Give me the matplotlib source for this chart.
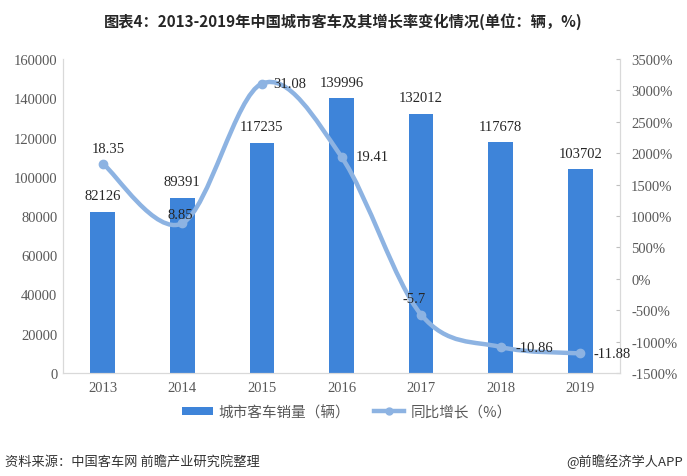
import matplotlib
matplotlib.use("Agg")
import matplotlib.pyplot as plt
from matplotlib.path import Path
from matplotlib.patches import PathPatch, Patch
from matplotlib.lines import Line2D
from matplotlib.ticker import FuncFormatter, MultipleLocator

years = ["2013", "2014", "2015", "2016", "2017", "2018", "2019"]
sales = [82126, 89391, 117235, 139996, 132012, 117678, 103702]
growth = [18.35, 8.85, 31.08, 19.41, -5.7, -10.86, -11.88]

title = "图表4：2013-2019年中国城市客车及其增长率变化情况(单位：辆，%)"
legend_bar = "城市客车销量（辆）"
legend_line = "同比增长（%）"
source = "资料来源：中国客车网 前瞻产业研究院整理"
brand = "@前瞻经济学人APP"

BAR = "#3e84d9"
LINE = "#8db3e2"
GRAY = "#595959"
SERIF = ["Liberation Serif", "DejaVu Serif"]
CJK = ["Noto Sans CJK SC", "DejaVu Sans"]

plt.rcParams["font.family"] = CJK

fig = plt.figure(figsize=(6.87, 4.77), dpi=100)
ax = fig.add_axes([63/687, 1-374/477, (620-63)/687, (374-60)/477])
ax2 = ax.twinx()

x = list(range(len(years)))
ax.bar(x, sales, width=0.31, color=BAR, zorder=2)
ax.set_xlim(-0.5, len(years)-0.5)
ax.set_ylim(0, 160000)
ax.yaxis.set_major_locator(MultipleLocator(20000))
ax.set_xticks(x)
ax.set_xticklabels(years)

for xi, v in zip(x, sales):
    ax.annotate(str(v), (xi, v), xytext=(0, 16), textcoords="offset pixels",
                ha="center", va="center", fontsize=10.5, family=SERIF, color="#262626")

# smoothed line (Catmull-Rom as cubic Bezier)
pts = list(zip(x, growth))
verts = [pts[0]]
codes = [Path.MOVETO]
n = len(pts)
for i in range(n-1):
    p0 = pts[i-1] if i > 0 else pts[i]
    p1 = pts[i]
    p2 = pts[i+1]
    p3 = pts[i+2] if i+2 < n else pts[i+1]
    c1 = (p1[0] + (p2[0]-p0[0])/6, p1[1] + (p2[1]-p0[1])/6)
    c2 = (p2[0] - (p3[0]-p1[0])/6, p2[1] - (p3[1]-p1[1])/6)
    verts += [c1, c2, p2]
    codes += [Path.CURVE4]*3
ax2.add_patch(PathPatch(Path(verts, codes), facecolor="none", edgecolor=LINE,
                        lw=3.2, capstyle="round", joinstyle="round", zorder=3))
ax2.plot(x, growth, linestyle="none", marker="o", markersize=6, color=LINE, zorder=4)
ax2.set_ylim(-15, 35)
ax2.yaxis.set_major_locator(MultipleLocator(5))
ax2.yaxis.set_major_formatter(FuncFormatter(lambda v, p: f"{v*100:.0f}%"))

offsets = [(5, 15, "center"), (-2, 9, "center"), (11, 0, "left"), (14, 0, "left"),
           (-7, 16, "center"), (15, 0, "left"), (13, 0, "left")]
for xi, v, (dx, dy, ha) in zip(x, growth, offsets):
    ax2.annotate(f"{v:g}", (xi, v), xytext=(dx, dy), textcoords="offset pixels",
                 ha=ha, va="center", fontsize=10.5, family=SERIF, color="#262626", zorder=5)

for a in (ax, ax2):
    for s in a.spines.values():
        s.set_color("#d9d9d9")
    a.spines["top"].set_visible(False)
    a.tick_params(colors=GRAY, labelsize=10.5, length=3, width=0.8)
    for lab in a.get_yticklabels() + a.get_xticklabels():
        lab.set_family(SERIF)
        lab.set_color(GRAY)
ax.tick_params(axis="x", length=0, pad=6)
ax.tick_params(axis="y", length=0, pad=4)
ax2.tick_params(axis="y", direction="in", pad=8, color="#bfbfbf")

fig.text(0.5, 1-22/477, title, ha="center", va="center", fontsize=11, fontweight="bold",
         color="#262626")

handles = [Patch(facecolor=BAR, edgecolor="none"),
           Line2D([], [], color=LINE, lw=3.2, marker="o", markersize=5)]
leg = fig.legend(handles, [legend_bar, legend_line], loc="center",
                 bbox_to_anchor=(0.505, 1-413/477), ncol=2, frameon=False,
                 fontsize=10.5, handlelength=2.1, handleheight=0.5, columnspacing=1.6,
                 handletextpad=0.4)
for t in leg.get_texts():
    t.set_color(GRAY)

fig.text(5/687, 1-462/477, source, ha="left", va="center", fontsize=9.5, color="#333333")
fig.text(683/687, 1-462/477, brand, ha="right", va="center", fontsize=9.5, color="#333333")

fig.savefig("out.png", dpi=100)
